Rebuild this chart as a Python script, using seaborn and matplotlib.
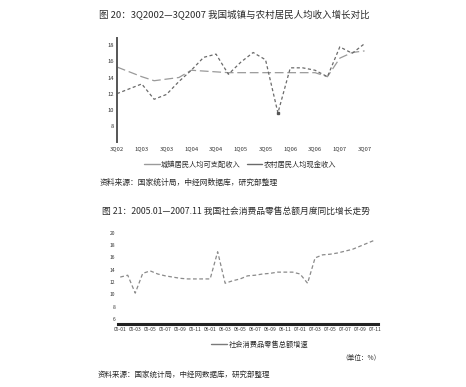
import matplotlib
matplotlib.use("Agg")
import matplotlib.pyplot as plt
from matplotlib.lines import Line2D
import pandas as pd
import seaborn as sns

# ---- data: quarterly income growth (%), 3Q2002 - 3Q2007 ----
quarters = ["3Q02", "4Q02", "1Q03", "2Q03", "3Q03", "4Q03", "1Q04", "2Q04",
            "3Q04", "4Q04", "1Q05", "2Q05", "3Q05", "4Q05", "1Q06", "2Q06",
            "3Q06", "4Q06", "1Q07", "2Q07", "3Q07"]
urban_income = [15.3, 14.7, 14.1, 13.6, 13.8, 14.0, 14.9, 14.8, 14.7, 14.6, 14.6,
                14.6, 14.6, 14.6, 14.6, 14.6, 14.6, 14.1, 16.4, 17.1, 17.3]
rural_income = [12.0, 12.6, 13.2, 11.3, 11.9, 13.5, 14.9, 16.5, 16.9, 14.4, 15.9,
                17.1, 16.2, 9.6, 15.2, 15.2, 14.9, 14.1, 17.8, 17.0, 18.2]
income_labels = ["城镇居民人均可支配收入", "农村居民人均现金收入"]

# ---- data: monthly retail sales growth (%), 2005.01 - 2007.11 ----
months = [f"{y:02d}-{m:02d}" for y in (5, 6, 7) for m in range(1, 13)][:35]
retail_growth = [12.8, 13.1, 10.2, 13.4, 13.8, 13.3, 13.0, 12.8, 12.6, 12.5,
                 12.5, 12.5, 12.5, 16.9, 11.8, 12.2, 12.5, 13.0, 13.1, 13.3,
                 13.4, 13.6, 13.6, 13.6, 13.3, 11.8, 15.9, 16.4, 16.5, 16.7,
                 17.0, 17.3, 17.8, 18.3, 18.8]
retail_label = "社会消费品零售总额增速"

sns.set_theme(style="white")
plt.rcParams["font.family"] = ["Noto Sans CJK SC", "DejaVu Sans"]

W, H = 466, 387
fig = plt.figure(figsize=(W / 100, H / 100), dpi=100)
fig.patch.set_facecolor("white")


def px_axes(left, top, right, bottom):
    return fig.add_axes([left / W, 1 - bottom / H, (right - left) / W, (bottom - top) / H])


def px_text(x, y, s, size, ha="left", color="#2a2a2a"):
    fig.text(x / W, 1 - y / H, s, fontsize=size, ha=ha, va="center", color=color)


# ---------- chart 1 ----------
ax1 = px_axes(117, 38, 372, 142)
df1 = pd.DataFrame({"idx": range(len(quarters)),
                    "urban": urban_income, "rural": rural_income})
c_urban, c_rural = "#9a9a9a", "#6a6a6a"
sns.lineplot(data=df1, x="idx", y="urban", ax=ax1, color=c_urban, lw=0.9,
             linestyle=(0, (7, 3)))
sns.lineplot(data=df1, x="idx", y="rural", ax=ax1, color=c_rural, lw=0.9,
             linestyle=(0, (2.5, 2)))
low = df1["rural"].idxmin()
ax1.plot(df1["idx"][low], df1["rural"][low], "s", ms=2.0, color="#555555")
ax1.set_xlim(0, 20.6)
ax1.set_ylim(6, 18.9)
ax1.set_yticks([8, 10, 12, 14, 16, 18])
ax1.set_xticks(range(0, len(quarters), 2))
ax1.set_xticklabels(quarters[::2])
ax1.tick_params(axis="both", labelsize=4.2, colors="#333333", length=0, pad=2)
ax1.tick_params(axis="x", pad=3)
ax1.set_xlabel("")
ax1.set_ylabel("")
for s in ("top", "right", "bottom"):
    ax1.spines[s].set_visible(False)
ax1.spines["left"].set_color("#555555")
ax1.spines["left"].set_linewidth(1.4)

handles1 = [Line2D([], [], color=c_urban, lw=1.0), Line2D([], [], color=c_rural, lw=1.0)]
fig.legend(handles1, income_labels, loc="center", bbox_to_anchor=(240 / W, 1 - 165 / H),
           ncol=2, frameon=False, fontsize=5.2, handlelength=2.2, handletextpad=0.2,
           columnspacing=0.8, labelcolor="#2a2a2a")

# ---------- chart 2 ----------
ax2 = px_axes(118, 232, 378, 324)
df2 = pd.DataFrame({"idx": range(len(months)), "growth": retail_growth})
sns.lineplot(data=df2, x="idx", y="growth", ax=ax2, color="#8a8a8a", lw=0.9,
             linestyle=(0, (3, 2)))
ax2.set_xlim(-0.3, 34.4)
ax2.set_ylim(5.2, 20.1)
ax2.set_yticks([6, 8, 10, 12, 14, 16, 18, 20])
ax2.set_xticks(range(0, len(months), 2))
ax2.set_xticklabels(months[::2])
ax2.tick_params(axis="both", labelsize=3.6, colors="#333333", length=0, pad=2)
ax2.set_xlabel("")
ax2.set_ylabel("")
for s in ("top", "right", "left"):
    ax2.spines[s].set_visible(False)
ax2.spines["bottom"].set_color("#222222")
ax2.spines["bottom"].set_linewidth(2.2)

fig.legend([Line2D([], [], color="#7a7a7a", lw=1.0)], [retail_label], loc="center",
           bbox_to_anchor=(260 / W, 1 - 345 / H), frameon=False, fontsize=5.2,
           handlelength=2.2, handletextpad=0.2, labelcolor="#2a2a2a")

# ---------- titles and notes ----------
px_text(99, 14, "图 20：3Q2002—3Q2007 我国城镇与农村居民人均收入增长对比", 6.8)
px_text(100, 183, "资料来源：国家统计局，中经网数据库，研究部整理", 5.6)
px_text(102, 211, "图 21：2005.01—2007.11 我国社会消费品零售总额月度同比增长走势", 6.3)
px_text(381, 358, "（单位：%）", 4.8, ha="right")
px_text(98, 375, "资料来源：国家统计局，中经网数据库，研究部整理", 5.4)

fig.savefig("out.png", dpi=100, facecolor="white")
